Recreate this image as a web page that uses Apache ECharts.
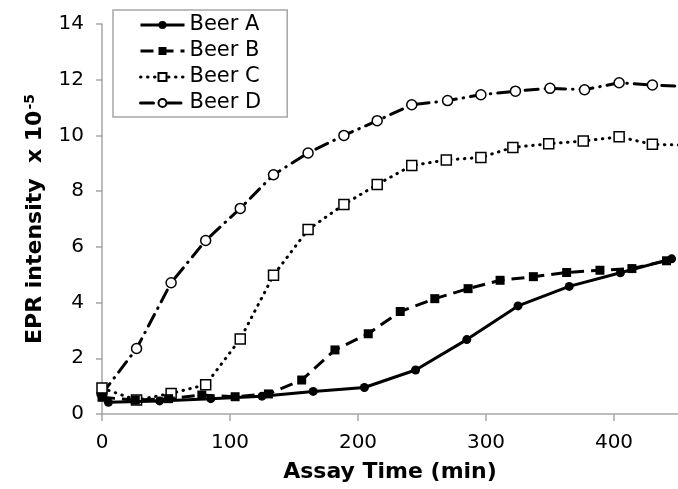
<!DOCTYPE html>
<html>
<head>
<meta charset="utf-8">
<script src="https://cdn.jsdelivr.net/npm/echarts@6/dist/echarts.min.js"></script>
<style>
html,body{margin:0;padding:0;background:#fff;}
#chart{width:678px;height:489px;}
</style>
</head>
<body>
<div id="chart"></div>
<script>
// Assay time (min) and EPR intensity (x 10^-5) for each beer
var timeA = [5, 45, 85, 125, 165, 205, 245, 285, 325, 365, 405, 445];
var beerA = [0.42, 0.47, 0.55, 0.64, 0.81, 0.95, 1.58, 2.67, 3.88, 4.58, 5.07, 5.57];

var timeB = [0, 26, 52, 78, 104, 130, 156, 182, 208, 233, 260, 286, 311, 337, 363, 389, 414, 441];
var beerB = [0.6, 0.5, 0.55, 0.68, 0.62, 0.72, 1.22, 2.3, 2.88, 3.68, 4.14, 4.5, 4.8, 4.93, 5.08, 5.16, 5.22, 5.5];

var timeC = [0, 27, 54, 81, 108, 134, 161, 189, 215, 242, 269, 296, 321, 349, 376, 404, 430, 457];
var beerC = [0.93, 0.5, 0.74, 1.05, 2.69, 4.98, 6.62, 7.52, 8.24, 8.92, 9.12, 9.21, 9.57, 9.70, 9.80, 9.95, 9.68, 9.65];

var timeD = [0, 27, 54, 81, 108, 134, 161, 189, 215, 242, 270, 296, 323, 350, 377, 404, 430, 457];
var beerD = [0.72, 2.35, 4.71, 6.23, 7.38, 8.59, 9.37, 10.0, 10.53, 11.1, 11.25, 11.46, 11.59, 11.69, 11.64, 11.89, 11.81, 11.75];

var seriesNames = ['Beer A', 'Beer B', 'Beer C', 'Beer D'];
var xTicks = [0, 100, 200, 300, 400];
var yTicks = [0, 2, 4, 6, 8, 10, 12, 14];

function pairs(xs, ys) {
  return xs.map(function (x, i) { return [x, ys[i]]; });
}

var FONT = 'DejaVu Sans';
var AXIS_COLOR = '#a6a6a6';

var chart = echarts.init(document.getElementById('chart'), null, {renderer: 'canvas'});
chart.setOption({
  backgroundColor: '#ffffff',
  animation: false,
  textStyle: {fontFamily: FONT, color: '#000'},
  grid: {left: 102, right: 0, top: 24, bottom: 75, containLabel: false},
  legend: {
    data: seriesNames,
    orient: 'vertical',
    left: 113,
    top: 10,
    padding: [4, 26, 3, 26],
    itemGap: 4,
    itemWidth: 44,
    itemHeight: 10,
    backgroundColor: '#ffffff',
    borderColor: AXIS_COLOR,
    borderWidth: 1.5,
    borderRadius: 0,
    lineStyle: {width: 3},
    textStyle: {fontFamily: FONT, fontSize: 21, color: '#000', lineHeight: 22}
  },
  xAxis: {
    type: 'value',
    min: 0,
    max: 450,
    interval: 100,
    name: 'Assay Time (min)',
    nameLocation: 'middle',
    nameGap: 47,
    nameTextStyle: {fontFamily: FONT, fontSize: 22, fontWeight: 'bold', color: '#000'},
    axisLine: {show: true, lineStyle: {color: AXIS_COLOR, width: 1.5}},
    axisTick: {show: true, inside: false, length: 7, lineStyle: {color: AXIS_COLOR, width: 1.5}, customValues: xTicks},
    axisLabel: {fontFamily: FONT, fontSize: 20, color: '#000', margin: 19, customValues: xTicks},
    splitLine: {show: false}
  },
  yAxis: {
    type: 'value',
    min: 0,
    max: 14,
    interval: 2,
    name: '{n|EPR intensity  x 10}{s|-5}',
    nameLocation: 'middle',
    nameGap: 53,
    nameRotate: 90,
    nameTextStyle: {
      fontFamily: FONT, fontSize: 22, fontWeight: 'bold', color: '#000',
      rich: {
        n: {fontFamily: FONT, fontSize: 22, fontWeight: 'bold', color: '#000', lineHeight: 24},
        s: {fontFamily: FONT, fontSize: 14, fontWeight: 'bold', color: '#000', verticalAlign: 'top', lineHeight: 24, padding: [0, 0, 10, 1]}
      }
    },
    axisLine: {show: true, lineStyle: {color: AXIS_COLOR, width: 1.5}},
    axisTick: {show: true, inside: false, length: 6, lineStyle: {color: AXIS_COLOR, width: 1.5}},
    axisLabel: {fontFamily: FONT, fontSize: 20, color: '#000', margin: 18, customValues: yTicks},
    splitLine: {show: false}
  },
  series: [
    {
      name: 'Beer A', type: 'line', data: pairs(timeA, beerA), z: 5,
      symbol: 'circle', symbolSize: 9, clip: true,
      lineStyle: {color: '#000', width: 3, type: 'solid'},
      itemStyle: {color: '#000', borderColor: '#000', borderWidth: 0}
    },
    {
      name: 'Beer B', type: 'line', data: pairs(timeB, beerB), z: 4,
      symbol: 'rect', symbolSize: 9, clip: true,
      lineStyle: {color: '#000', width: 3, type: [13, 7]},
      itemStyle: {color: '#000', borderColor: '#000', borderWidth: 0}
    },
    {
      name: 'Beer C', type: 'line', data: pairs(timeC, beerC), z: 3,
      symbol: 'rect', symbolSize: 10, clip: true,
      lineStyle: {color: '#000', width: 3, type: [0.5, 6.5], cap: 'round'},
      itemStyle: {color: '#fff', borderColor: '#000', borderWidth: 1.5}
    },
    {
      name: 'Beer D', type: 'line', data: pairs(timeD, beerD), z: 2,
      symbol: 'circle', symbolSize: 10, clip: true,
      lineStyle: {color: '#000', width: 3, type: [13, 7, 0.5, 7], cap: 'round'},
      itemStyle: {color: '#fff', borderColor: '#000', borderWidth: 1.5}
    }
  ]
});
</script>
</body>
</html>
